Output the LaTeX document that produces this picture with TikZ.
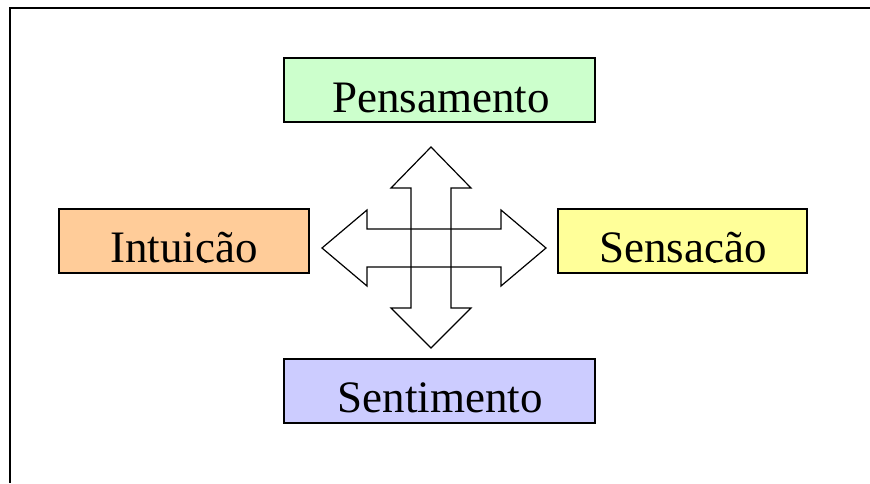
\documentclass[tikz,border=0pt]{standalone}
\usepackage{fontspec}
\setmainfont{Liberation Serif}
\definecolor{cgreen}{HTML}{CCFFCC}
\definecolor{corange}{HTML}{FFCC99}
\definecolor{cyellow}{HTML}{FFFF99}
\definecolor{cblue}{HTML}{CCCCFF}
\tikzset{
  box/.style={draw=black, line width=1.4pt, rectangle, inner sep=0pt, minimum width=#1, minimum height=64pt},
  lbl/.style={anchor=base, inner sep=0pt, font=\fontsize{45}{54}\selectfont},
  arr/.style={draw=black, line width=1.2pt, line join=miter},
  frame/.style={draw=black, line width=2pt}
}
\begin{document}
\begin{tikzpicture}[x=1pt,y=-1pt]
\useasboundingbox (0,0) rectangle (870,483);
% frame (top and left only)
\draw[frame] (870,7.5) -- (10,7.5) -- (10,483);
% boxes
\node[box=311pt, fill=cgreen]  (pens) at (439.5,90) {};
\node[box=250pt, fill=corange] (intu) at (184,241) {};
\node[box=249pt, fill=cyellow] (sens) at (682.5,241) {};
\node[box=311pt, fill=cblue]   (sent) at (439.5,391) {};
% labels, clipped at the baseline as in the reference
\begin{scope}
  \clip (pens.north west) rectangle (pens.east |- 0,112.3);
  \node[lbl] (pensT) at (441,112.5) {Pensamento};
\end{scope}
\begin{scope}
  \clip (intu.north west) rectangle (intu.east |- 0,262.3);
  \node[lbl] (intuT) at (184,262.5) {Intuição};
\end{scope}
\begin{scope}
  \clip (sens.north west) rectangle (sens.east |- 0,262.3);
  \node[lbl] (sensT) at (683,262.5) {Sensação};
\end{scope}
\begin{scope}
  \clip (sent.north west) rectangle (sent.east |- 0,412.3);
  \node[lbl] (sentT) at (440,412.5) {Sentimento};
\end{scope}
% cross of double arrows (outlines only)
\draw[arr] (431,147) -- (471,188) -- (451,188) -- (451,308) -- (471,308) -- (431,348)
  -- (391,308) -- (411,308) -- (411,188) -- (391,188) -- cycle;
\draw[arr] (322,248) -- (367,210) -- (367,229) -- (501,229) -- (501,210) -- (546,248)
  -- (501,286) -- (501,267) -- (367,267) -- (367,286) -- cycle;
\end{tikzpicture}
\end{document}
